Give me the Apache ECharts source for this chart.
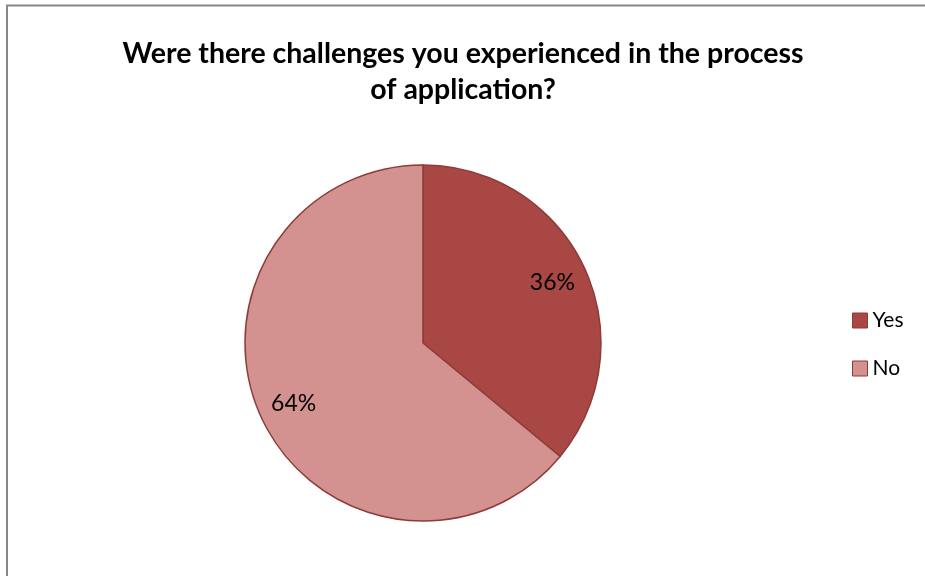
<!DOCTYPE html>
<html>
<head>
<meta charset="utf-8">
<script src="https://cdn.jsdelivr.net/npm/echarts@6/dist/echarts.min.js"></script>
<style>
html,body{margin:0;padding:0;background:#fff;overflow:hidden;}
#chart{width:925px;height:576px;}
</style>
</head>
<body>
<div id="chart"></div>
<script>
// Survey answers and their shares
const categories = ['Yes', 'No'];
const shares = [36, 64];
const sliceColors = ['#A94744', '#D39290'];

const chart = echarts.init(document.getElementById('chart'), null, { renderer: 'canvas' });

const pieData = categories.map((name, i) => ({
  name: name,
  value: shares[i],
  itemStyle: { color: sliceColors[i] }
}));

const FONT = 'Lato, "Open Sans", "Liberation Sans", sans-serif';

chart.setOption({
  backgroundColor: '#ffffff',
  animation: false,
  title: {
    text: 'Were there challenges you experienced in the process\nof application?',
    left: 458,
    textAlign: 'center',
    top: 31,
    textStyle: {
      fontFamily: FONT,
      fontWeight: 'bold',
      fontSize: 28.5,
      lineHeight: 36,
      color: '#000'
    }
  },
  legend: {
    orient: 'vertical',
    left: 852,
    top: 310,
    padding: 0,
    itemWidth: 15,
    itemHeight: 15,
    itemGap: 27,
    icon: 'rect',
    data: categories,
    textStyle: { fontFamily: FONT, fontSize: 21, color: '#000' },
    itemStyle: { borderColor: '#8E3B39', borderWidth: 1 }
  },
  graphic: [{
    // chart frame: left and top edges
    type: 'polyline',
    shape: { points: [[7, 576], [7, 5.5], [925, 5.5]] },
    style: { fill: 'none', stroke: '#888888', lineWidth: 2 },
    silent: true
  }],
  series: [
    {
      type: 'pie',
      center: [423, 343],
      radius: [0, 178],
      startAngle: 90,
      clockwise: true,
      data: pieData,
      label: { show: false },
      labelLine: { show: false },
      itemStyle: { borderColor: '#8E3B39', borderWidth: 1.5 },
      emphasis: { disabled: true }
    },
    {
      // transparent ring that only carries the percentage labels
      type: 'pie',
      center: [423, 343],
      radius: [102, 178],
      startAngle: 90,
      clockwise: true,
      silent: true,
      data: pieData.map(d => ({ name: d.name, value: d.value, itemStyle: { color: 'rgba(0,0,0,0)' } })),
      label: {
        show: true,
        position: 'inside',
        formatter: p => p.value + '%',
        fontFamily: FONT,
        fontSize: 23,
        color: '#000'
      },
      labelLine: { show: false },
      emphasis: { disabled: true },
      legendHoverLink: false
    }
  ]
});
</script>
</body>
</html>
